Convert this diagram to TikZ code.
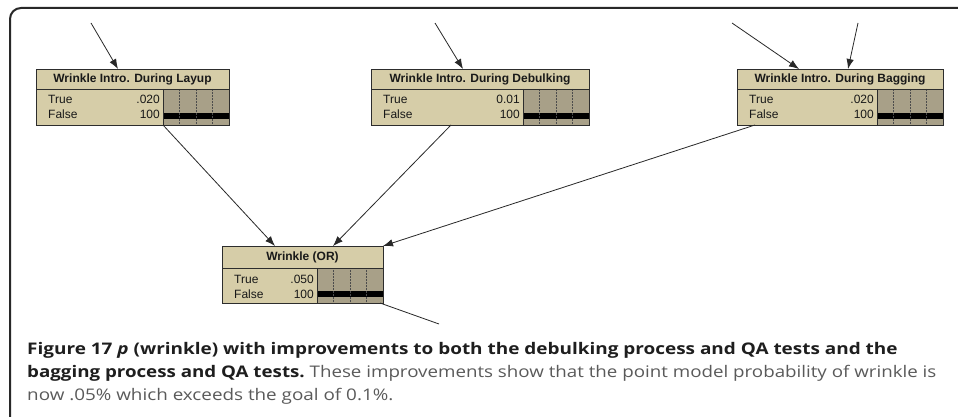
\documentclass[tikz,border=0pt]{standalone}
\usepackage{fontspec}
\setmainfont{Liberation Sans}
\newfontfamily\capfont{Open Sans}
\usetikzlibrary{arrows.meta,calc}
\definecolor{nodefill}{RGB}{214,205,168}
\definecolor{barfill}{RGB}{168,160,136}
\definecolor{edgecol}{RGB}{45,45,45}
\definecolor{linkcol}{RGB}{40,40,40}
\definecolor{framecol}{RGB}{40,40,40}
\definecolor{captxt}{RGB}{30,30,30}
\definecolor{capgray}{RGB}{90,90,90}
\tikzset{
  bnbox/.style={draw=edgecol, line width=0.9pt, fill=nodefill, anchor=north west, inner sep=0pt, outer sep=0pt},
  sepline/.style={draw=edgecol, line width=0.8pt},
  gridline/.style={draw=black!70, line width=0.5pt, densely dotted},
  titletext/.style={font=\bfseries\fontsize{12}{14}\selectfont, text=black!90, inner sep=0pt},
  rowtext/.style={font=\fontsize{12}{14}\selectfont, text=black!90, inner sep=0pt},
  link/.style={draw=linkcol, line width=0.8pt},
  arrowlink/.style={link, -{Latex[length=10pt,width=7.5pt]}},
  captext/.style={font=\capfont\fontsize{16}{20}\selectfont, anchor=base west, inner sep=0pt}
}
% #1 name, #2 x, #3 y, #4 width, #5 height, #6 title height, #7 title, #8 true value, #9 false value
\newcommand\bnnode[9]{%
  \node[bnbox, minimum width=#4pt, minimum height=#5pt] (#1) at (#2,#3) {};
  \fill[barfill] ($(#1.north east)+(-66,#6)$) rectangle (#1.south east);
  \fill[black] ($(#1.south east)+(-66,-12)$) rectangle ($(#1.south east)+(0,-6)$);
  \foreach \k in {16.5,33,49.5}{
    \draw[gridline] ($(#1.north east)+(-\k,#6)$) -- ($(#1.south east)+(-\k,0)$);
  }
  \draw[sepline] ($(#1.north east)+(-66,#6)$) -- ($(#1.south east)+(-66,0)$);
  \draw[sepline] ($(#1.north west)+(0,#6)$) -- ($(#1.north east)+(0,#6)$);
  \draw[draw=edgecol, line width=0.9pt] (#1.north west) rectangle (#1.south east);
  \node[titletext] (#1-title) at ($(#1.north)+(0,#6/2+0.5)$) {#7};
  \node[rowtext, anchor=base west] (#1-t) at ($(#1.north west)+(12,#6+15)$) {True};
  \node[rowtext, anchor=base west] (#1-f) at ($(#1.north west)+(12,#6+30)$) {False};
  \node[rowtext, anchor=base east] (#1-tv) at ($(#1.north east)+(-69,#6+15)$) {#8};
  \node[rowtext, anchor=base east] (#1-fv) at ($(#1.north east)+(-69,#6+30)$) {#9};
}
\begin{document}
\begin{tikzpicture}[x=1pt,y=-1pt]
  \useasboundingbox (0,0) rectangle (958,417);
  \fill[white] (0,0) rectangle (958,417);
  \begin{scope}
    \clip (0,0) rectangle (958,417);
    \draw[draw=framecol, line width=2pt, rounded corners=11pt] (10,8) rectangle (1000,460);
  \end{scope}

  \bnnode{layup}{36}{69}{193}{56}{20}{Wrinkle Intro. During Layup}{.020}{100}
  \bnnode{debulk}{371}{69}{218}{56}{20}{Wrinkle Intro. During Debulking}{0.01}{100}
  \bnnode{bagging}{737}{69}{206}{56}{20}{Wrinkle Intro. During Bagging}{.020}{100}
  \bnnode{wrinkle}{222}{246}{161}{57}{22}{Wrinkle (OR)}{.050}{100}

  % free ends of incoming and outgoing links
  \coordinate (in1) at (91,23);
  \coordinate (in2) at (435,23);
  \coordinate (in3) at (732,23);
  \coordinate (in4) at (858,23);
  \coordinate (out1) at (439,324);

  \draw[arrowlink] (in1) -- ($(layup.north west)+(82,0)$);
  \draw[arrowlink] (in2) -- ($(debulk.north west)+(92,0)$);
  \draw[arrowlink] (in3) -- ($(bagging.north west)+(62,0)$);
  \draw[arrowlink] (in4) -- ($(bagging.north west)+(111,0)$);

  \draw[arrowlink] ($(layup.south west)+(127,0)$) -- ($(wrinkle.north west)+(53,0)$);
  \draw[arrowlink] ($(debulk.south west)+(80,0)$) -- ($(wrinkle.north west)+(111,0)$);
  \draw[arrowlink] ($(bagging.south west)+(18,0)$) -- (wrinkle.north east);
  \draw[link] ($(wrinkle.south east)+(-3,0)$) -- (out1);

  % caption
  \node[captext, text=captxt] (cap1) at (27,354) {\scalebox{1.184}[1]{\bfseries Figure 17 \textit{p} (wrinkle) with improvements to both the debulking process and QA tests and the}};
  \node[captext, text=captxt] (cap2) at (27,377) {\scalebox{1.171}[1]{{\bfseries bagging process and QA tests.}\ \textcolor{capgray}{These improvements show that the point model probability of wrinkle is}}};
  \node[captext, text=capgray] (cap3) at (27,400) {\scalebox{1.178}[1]{now .05\% which exceeds the goal of 0.1\%.}};
\end{tikzpicture}
\end{document}
